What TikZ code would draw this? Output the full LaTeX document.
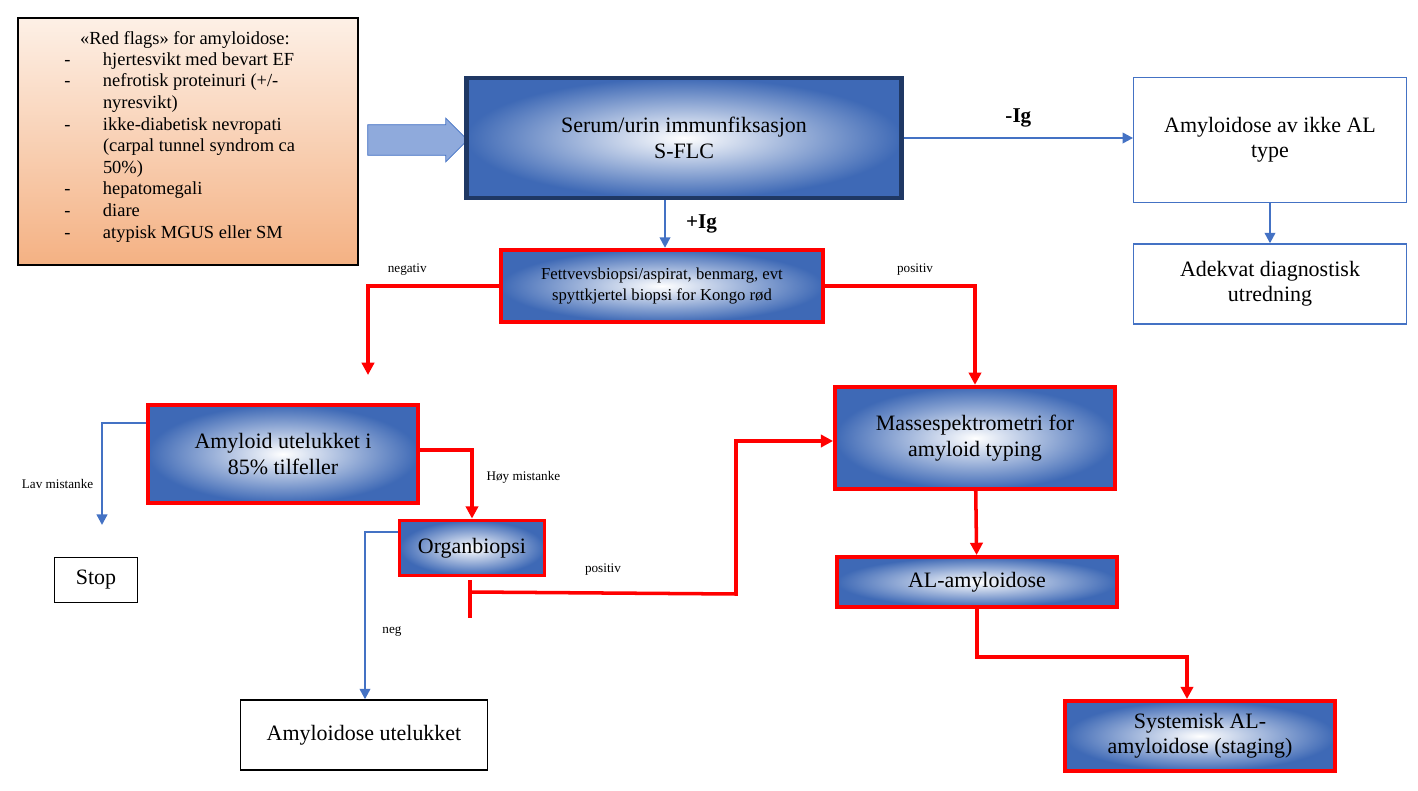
\documentclass[tikz,border=0pt]{standalone}
\usepackage{fontspec}
\setmainfont{Liberation Serif}
\usetikzlibrary{arrows.meta,shapes.arrows}
\definecolor{navy}{HTML}{1F3864}
\definecolor{midblue}{HTML}{4472C4}
\definecolor{flagtop}{HTML}{FDF0E6}
\definecolor{flagbot}{HTML}{F4B183}
\tikzset{
  grad/.style={shading=radial, inner color=white, outer color=midblue!85!navy},
  redbox/.style={draw=red, line width=2.2pt, grad, align=center, font=\fontsize{12.5}{14.5}\selectfont},
  plainbox/.style={draw, line width=0.8pt, fill=white, align=center, font=\fontsize{12.5}{14.5}\selectfont},
  bluebox/.style={plainbox, draw=midblue},
  redline/.style={draw=red, line width=2pt, -{Triangle[length=7pt,width=7pt]}},
  blueline/.style={draw=midblue, line width=1.3pt, -{Triangle[length=6pt,width=6pt]}},
  lbl/.style={font=\fontsize{7.5}{9}\selectfont}
}
\begin{document}
\begin{tikzpicture}[x=0.02cm,y=-0.02cm]
  \useasboundingbox (0,0) rectangle (1418,791);

  % red flags
  \shade[top color=flagtop, bottom color=flagbot, draw=black, line width=0.8pt] (18,18) rectangle (358,265);
  \node[font=\fontsize{10.5}{12.3}\selectfont, align=left, anchor=north west, inner sep=0pt] (flags) at (64,31) {%
    \hspace*{9pt}«Red flags» for amyloidose:\\
    \begin{tabular}{@{}p{22pt}@{}p{135pt}@{}}
    - & hjertesvikt med bevart EF\\
    - & nefrotisk proteinuri (+/-\\ & nyresvikt)\\
    - & ikke-diabetisk nevropati\\ & (carpal tunnel syndrom ca\\ & 50\%)\\
    - & hepatomegali\\
    - & diare\\
    - & atypisk MGUS eller SM
    \end{tabular}};

  \node[single arrow, draw=midblue, fill=midblue!60, minimum height=2cm, text width=0.8cm,
        inner xsep=0pt, inner ysep=0.3cm, single arrow head extend=0.13cm] (big) at (410,140) {};

  % top row
  \node[draw=navy, line width=2.5pt, grad, minimum width=8.7cm, minimum height=2.4cm, align=center,
        font=\fontsize{12.5}{14.5}\selectfont] (serum) at (684,138) {Serum/urin immunfiksasjon\\S-FLC};
  \node[bluebox, minimum width=5.45cm, minimum height=2.5cm] (ikkeal) at (1270,140) {Amyloidose av ikke AL\\type};
  \node[bluebox, minimum width=5.45cm, minimum height=1.6cm] (adekvat) at (1270,284) {Adekvat diagnostisk\\utredning};
  \node[redbox, minimum width=6.45cm, minimum height=1.45cm, font=\fontsize{9.5}{12}\selectfont] (fett) at (662,286)
    {Fettvevsbiopsi/aspirat, benmarg, evt\\spyttkjertel biopsi for Kongo rød};

  % middle
  \node[redbox, minimum width=5.4cm, minimum height=1.95cm] (utel) at (283,454) {Amyloid utelukket i\\85\% tilfeller};
  \node[redbox, minimum width=2.9cm, minimum height=1.1cm] (organ) at (472,548) {Organbiopsi};
  \node[redbox, minimum width=5.6cm, minimum height=2.05cm] (masse) at (975,438) {Massespektrometri for\\amyloid typing};
  \node[redbox, minimum width=5.6cm, minimum height=1.0cm] (alam) at (977,582) {AL-amyloidose};
  \node[redbox, minimum width=5.4cm, minimum height=1.4cm] (syst) at (1200,736) {Systemisk AL-\\amyloidose (staging)};
  \node[plainbox, minimum width=1.65cm, minimum height=0.9cm] (stop) at (96,580) {Stop};
  \node[plainbox, minimum width=4.95cm, minimum height=1.4cm] (amutel) at (364,735) {Amyloidose utelukket};

  % connectors
  \draw[blueline] (serum.east) -- (serum.east -| ikkeal.west) node[midway, above=2pt, font=\fontsize{12}{14}\selectfont\bfseries] {-Ig};
  \draw[blueline] (ikkeal) -- (adekvat);
  \draw[blueline] (serum.south -| fett.north) ++(3,0) coordinate (s1) -- (s1 |- fett.north)
    node[midway, right=8pt, font=\fontsize{12}{14}\selectfont\bfseries] {+Ig};
  \draw[redline] (fett.west) -| (368,375) node[pos=0.35, above=2pt, lbl] {negativ};
  \draw[redline] (fett.east) -| (masse.north) node[pos=0.3, above=2pt, lbl] {positiv};
  \draw[blueline] (utel.west |- 0,423) -| (102,525) node[pos=0.8, left=1pt, lbl] {Lav mistanke};
  \draw[redline] (utel.east |- 0,450) -| (organ.north) node[pos=0.7, right=4pt, lbl] {Høy mistanke};
  \draw[blueline] (organ.west |- 0,532) -| (amutel.north -| 365,0);
  \node[lbl] (neglbl) at (392,632) {neg};
  \coordinate (o1) at (470,580);
  \coordinate (o2) at (470,618);
  \draw[draw=red, line width=2pt] (o1) -- (o2);
  \draw[redline] (470,592) -- (736,594) node[midway, above=6pt, lbl] {positiv} |- (masse.west |- 0,441);
  \draw[redline] (masse) -- (alam);
  \draw[redline] (alam.south) -- ++(0,48) -| (syst.north -| 1187,0);
\end{tikzpicture}
\end{document}
